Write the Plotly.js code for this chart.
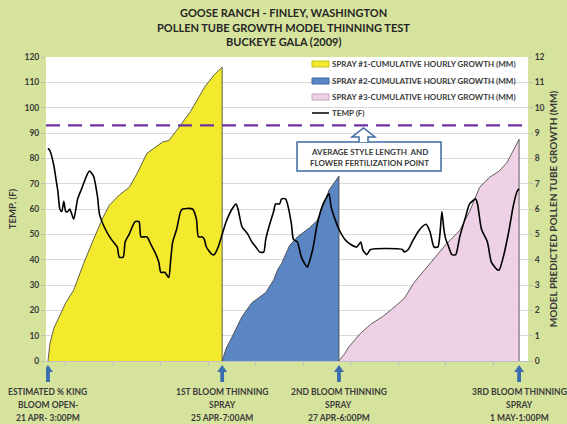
<!DOCTYPE html>
<html><head><meta charset="utf-8">
<script src="https://cdn.plot.ly/plotly-3.0.1.min.js"></script>
<style>html,body{margin:0;padding:0;background:#d6e39c}#chart{width:567px;height:424px}</style>
</head><body><div id="chart"></div>
<script>
const titleLines = ['GOOSE RANCH - FINLEY, WASHINGTON', 'POLLEN TUBE GROWTH MODEL THINNING TEST', 'BUCKEYE GALA (2009)'];
const seriesNames = ['SPRAY #1-CUMULATIVE HOURLY GROWTH (MM)', 'SPRAY #2-CUMULATIVE HOURLY GROWTH (MM)', 'SPRAY #3-CUMULATIVE HOURLY GROWTH (MM)', 'TEMP (F)'];
const leftAxisTitle = 'TEMP. (F)';
const rightAxisTitle = 'MODEL PREDICTED POLLEN TUBE GROWTH (MM)';
const calloutText = ['AVERAGE STYLE LENGTH  AND', 'FLOWER FERTILIZATION POINT'];

// hours after 21 Apr 3:00 PM
const tempHours = [0,1,3,4,5,6,7,8,9,10,
  11,13,15,17,20,21,23,25,26,29,
  32,35,36,38,39,41,44,46,47,50,
  52,54,56,57,59,61,62,63,65,67,
  68,73,75,76,78,79,80,83,84,86,
  88,90,93,95,96,98,100,101,103,105,
  107,109,110,112,114,115,117,118,120,121,
  123,124,126,128,130,131,132,134,136,139,
  142,143,145,147,150,153,156,158,159,161,
  163,179,180,182,184,187,189,191,193,195,
  197,198,199,200,201,202,204,206,208,211,
  213,216,217,219,222,224,227,228,230,233,
  235,237,238];
const tempValues = [84,83,77,72,67,60,59,63,59,59,
  60,56,64,68,74,75,73,65,58,52,
  48,45,41,41,47,50,55,55,49,49,
  46,43,39,35,35,33,40,47,52,59,
  60,60,56,49,49,48,45,42,42,45,
  50,55,60,62,60,53,51,50,47,45,
  43,43,48,54,59,62,62,64,64,62,
  54,48,47,41,38,37,39,45,54,62,
  66,61,56,52,48,46,45,47,44,42,
  44,44,43,44,47,51,53,54,51,45,
  45,50,59,52,48,46,42,42,49,57,
  62,64,62,52,47,39,36,36,41,52,
  61,67,68];

const spray1Hours = [0,1,3,6,9,13,18,23,28,31,36,41,45,50,55,58,61,65,72,79,84,88,88];
const spray1Values = [0,0.7,1.3,1.8,2.3,2.8,3.85,4.8,5.7,6.15,6.55,6.85,7.4,8.2,8.5,8.65,8.7,9.1,9.85,10.8,11.3,11.6,0];
const spray2Hours = [88,90,93,98,103,110,114,116,118,122,126,132,136,139,142,146,147,147];
const spray2Values = [0,0.5,0.95,1.75,2.3,2.7,3.2,3.6,3.85,4.55,4.9,5.25,5.55,6.1,6.75,7.2,7.3,0];
const spray3Hours = [147,150,152,158,163,169,173,180,185,193,201,208,213,218,223,228,232,235,238,238];
const spray3Values = [0,0.3,0.56,1.1,1.45,1.75,2.0,2.47,3.1,3.85,4.6,5.15,5.9,6.85,7.25,7.5,7.85,8.3,8.75,0];

const styleLengthTemp = 93;
const eventHours = [0, 88, 147, 238];
const eventLabels = [
  ['ESTIMATED % KING', 'BLOOM OPEN-', '21 APR- 3:00PM'],
  ['1ST BLOOM THINNING', 'SPRAY', '25 APR-7:00AM'],
  ['2ND BLOOM THINNING', 'SPRAY', '27 APR-6:00PM'],
  ['3RD BLOOM THINNING', 'SPRAY', '1 MAY-1:00PM']
];

const fillColors = ['#f3ea2e', '#5a87c4', '#efd1e5'];
const swatchBorders = ['#c8bf1c', '#3f6aa5', '#c9a3bd'];
const FONT = 'Lato, "Open Sans", sans-serif';
const TXT = '#3a3a3a';

// plot-area pixel frame for decorations
const L = 46, R = 528, T = 57, B = 361;
const px = x => (x - L) / (R - L);
const py = y => (B - y) / (B - T);
const hPerPx = 243.5 / (R - L);

const sprays = [[spray1Hours, spray1Values], [spray2Hours, spray2Values], [spray3Hours, spray3Values]];
const traces = sprays.map((s, i) => ({
  type: 'scatter', mode: 'lines', x: s[0], y: s[1], name: seriesNames[i],
  fill: 'tozeroy', fillcolor: fillColors[i],
  line: {color: '#3a3a3a', width: 0.8}, yaxis: 'y', showlegend: false, hoverinfo: 'skip'
}));
traces.push({
  type: 'scatter', mode: 'lines', x: tempHours, y: tempValues, name: seriesNames[3],
  line: {color: '#000000', width: 1.6, shape: 'spline', smoothing: 0.6},
  yaxis: 'y2', showlegend: false
});

const shapes = [];
const annotations = [];

// dashed style-length line
shapes.push({type: 'line', xref: 'paper', x0: 0, x1: 1, yref: 'y2', y0: styleLengthTemp, y1: styleLengthTemp,
  line: {color: '#7030a0', width: 2.2, dash: '14px,8px'}, layer: 'above'});

// manual legend
const legendY = [64, 81, 97, 113];
shapes.push({type: 'rect', xref: 'paper', yref: 'paper', x0: px(306), x1: 1, y0: py(122), y1: 1,
  fillcolor: '#ffffff', line: {width: 0}, layer: 'between'});
for (let i = 0; i < 3; i++) {
  shapes.push({type: 'rect', xref: 'paper', yref: 'paper', x0: px(312), x1: px(329),
    y0: py(legendY[i] + 3), y1: py(legendY[i] - 3), fillcolor: fillColors[i],
    line: {color: swatchBorders[i], width: 1}, layer: 'above'});
}
shapes.push({type: 'line', xref: 'paper', yref: 'paper', x0: px(312), x1: px(329),
  y0: py(legendY[3]), y1: py(legendY[3]), line: {color: '#000', width: 1.5}, layer: 'above'});
seriesNames.forEach((n, i) => annotations.push({
  xref: 'paper', yref: 'paper', x: px(330), y: py(legendY[i]), xanchor: 'left', yanchor: 'middle',
  text: n, showarrow: false, font: {family: FONT, size: 8, color: TXT, weight: 700}
}));

// callout box + arrow
shapes.push({type: 'rect', xref: 'paper', yref: 'paper', x0: px(297), x1: px(441), y0: py(171), y1: py(142),
  fillcolor: '#ffffff', line: {color: '#3d6aa3', width: 1.5}, layer: 'above'});
const ap = [[359,142],[359,137],[352,137],[363.5,128],[375,137],[368,137],[368,142]];
shapes.push({type: 'path', xref: 'paper', yref: 'paper',
  path: 'M' + ap.map(p => px(p[0]) + ',' + py(p[1])).join(' L') ,
  fillcolor: '#ffffff', line: {color: '#3d6aa3', width: 1.5}, layer: 'above'});
calloutText.forEach((t, i) => annotations.push({
  xref: 'paper', yref: 'paper', x: px(369), y: py(152 + i * 11), xanchor: 'center', yanchor: 'middle',
  text: t, showarrow: false, font: {family: FONT, size: 8, color: TXT, weight: 700}
}));

// event arrows and labels below the axis
eventHours.forEach((h, k) => {
  const sw = 1.9 * hPerPx, hw = 5 * hPerPx;
  const pts = [[h - sw, 382], [h - sw, 372], [h - hw, 372], [h, 365], [h + hw, 372], [h + sw, 372], [h + sw, 382]];
  shapes.push({type: 'path', xref: 'x', yref: 'paper',
    path: 'M' + pts.map(p => p[0] + ',' + py(p[1])).join(' L') + ' Z',
    fillcolor: '#3a6cb0', line: {width: 0}, layer: 'above'});
  eventLabels[k].forEach((t, j) => annotations.push({
    xref: 'x', yref: 'paper', x: h, y: py(392 + j * 13), xanchor: 'center', yanchor: 'middle',
    text: t, showarrow: false, font: {family: FONT, size: 8.5, color: TXT, weight: 700}
  }));
});

// chart title as three centred lines
titleLines.forEach((t, i) => annotations.push({
  xref: 'paper', yref: 'paper', x: (283.5 - L) / (R - L), y: py(12 + i * 15), xanchor: 'center', yanchor: 'middle',
  text: t, showarrow: false, font: {family: FONT, size: 11, color: '#262626', weight: 700}
}));

const tickFont = {family: FONT, size: 8.5, color: TXT, weight: 700};
const layout = {
  width: 567, height: 424,
  paper_bgcolor: '#d6e39c', plot_bgcolor: '#ffffff',
  margin: {l: L, r: 567 - R, t: T, b: 424 - B, pad: 0},
  showlegend: false,
  xaxis: {range: [-1, 242.5], showgrid: false, zeroline: false, showline: true, linecolor: '#bfbfbf',
    ticks: 'outside', tick0: 9, dtick: 24, ticklen: 4, tickcolor: '#bfbfbf', showticklabels: false},
  yaxis: {side: 'right', range: [0, 12], dtick: 1, showgrid: true, gridcolor: '#d9d9d9', zeroline: false,
    ticks: 'outside', ticklen: 4, tickcolor: '#bfbfbf', tickfont: tickFont,
    title: {text: rightAxisTitle, font: {family: FONT, size: 10, color: TXT, weight: 700}, standoff: 6}},
  yaxis2: {side: 'left', overlaying: 'y', range: [0, 120], dtick: 10, showgrid: false, zeroline: false,
    ticks: 'outside', ticklen: 4, tickcolor: '#bfbfbf', tickfont: tickFont,
    title: {text: leftAxisTitle, font: {family: FONT, size: 9.5, color: TXT, weight: 700}, standoff: 6}},
  shapes: shapes,
  annotations: annotations
};
Plotly.newPlot('chart', traces, layout, {displayModeBar: false, staticPlot: true});
</script></body></html>
